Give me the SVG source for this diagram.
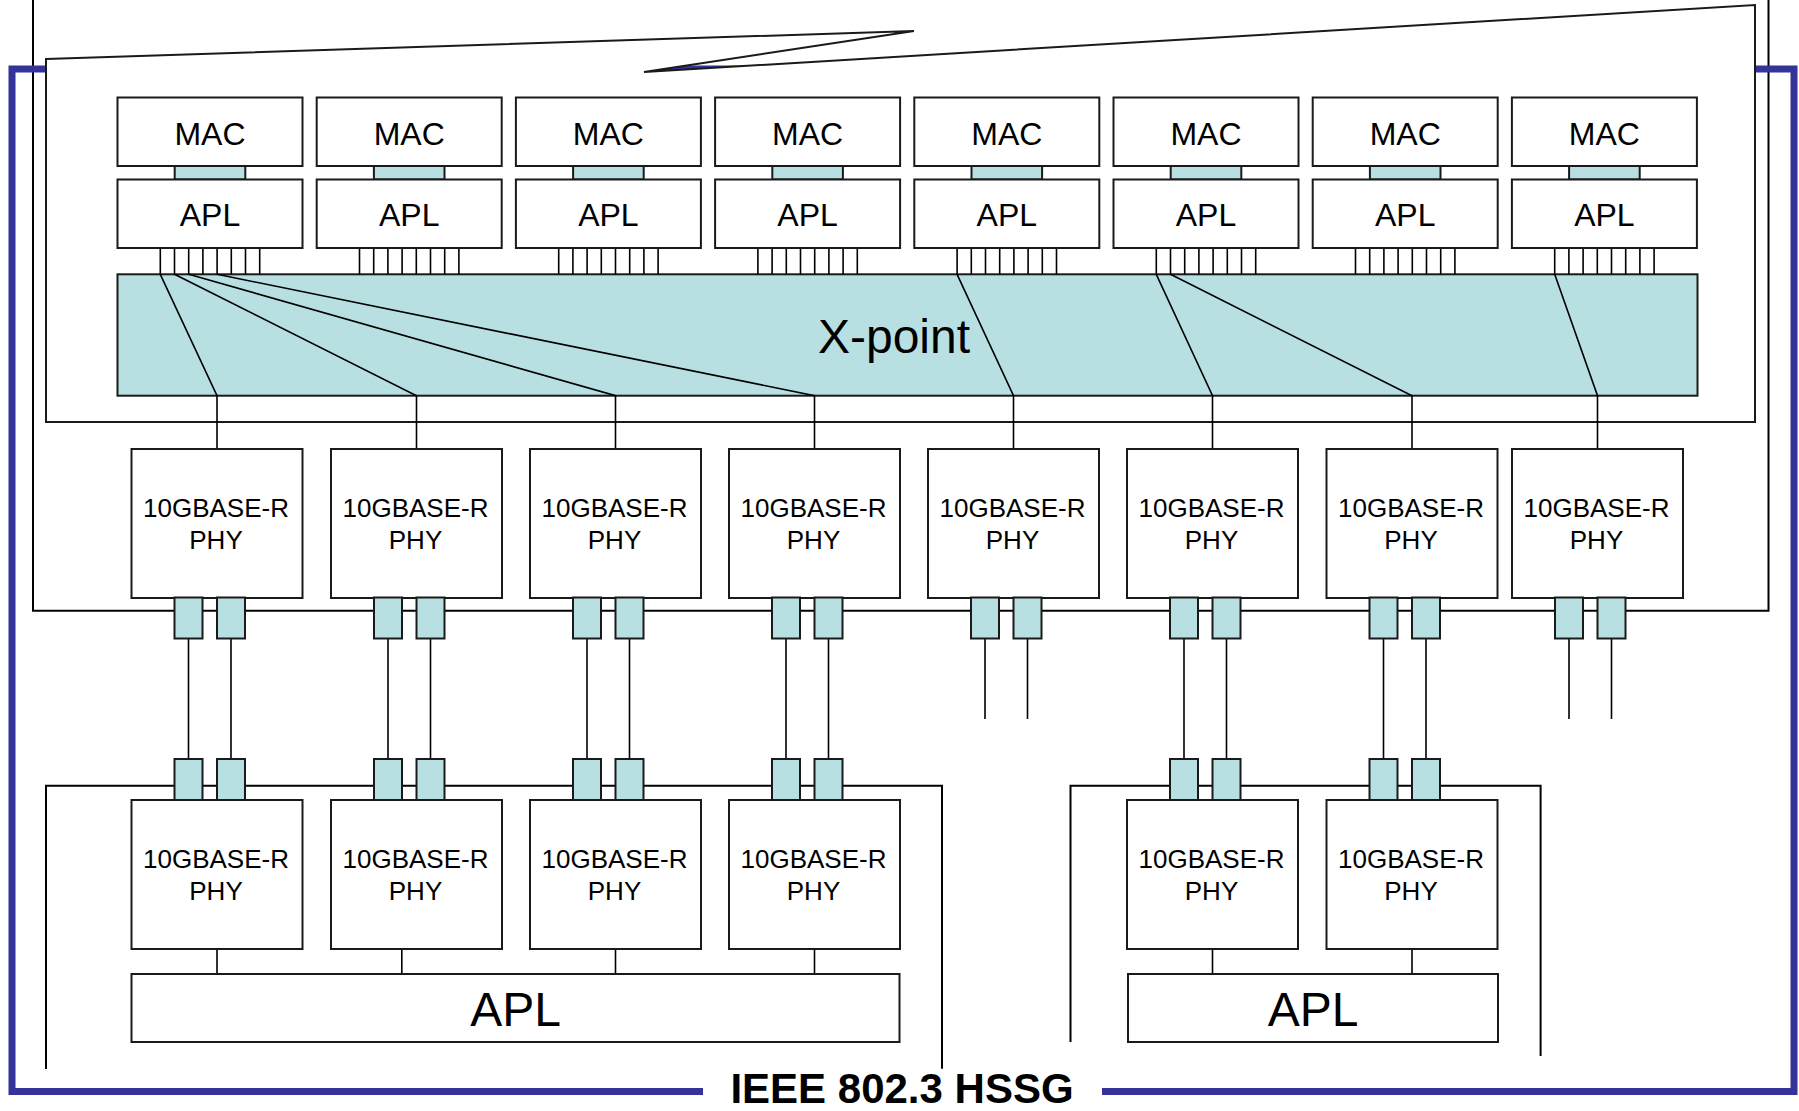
<svg xmlns="http://www.w3.org/2000/svg" width="1799" height="1111" viewBox="0 0 1799 1111">
<style>
.box{fill:#fff;stroke:#1a1a1a;stroke-width:2}
.teal{fill:#B8E0E3;stroke:#1a1a1a;stroke-width:2}
.ln{fill:none;stroke:#000;stroke-width:1.6}
.frame{fill:none;stroke:#000;stroke-width:2}
.t{font-family:"Liberation Sans",Arial,sans-serif;text-anchor:middle;fill:#000}
.m{font-size:32px}
.p{font-size:26px}
.big{font-size:48px}
</style>
<rect width="1799" height="1111" fill="#fff"/>
<g id="outer-box"><path class="frame" d="M33 0V610.7H1768.5V0"/></g>
<g id="hssg-frame"><path d="M703 1091.5H12V69H1794V1091.5H1102" fill="none" stroke="#333399" stroke-width="7"/>
<text class="t" x="902" y="1103" style="font-size:42px;font-weight:bold">IEEE 802.3 HSSG</text></g>
<g id="inner-box"><path class="box" d="M46 59L914 31L644 72L1755 5V422H46Z"/></g>
<g id="lower-left-box"><path class="frame" d="M46 1069V785.7H942V1068.7"/></g>
<g id="lower-right-box"><path class="frame" d="M1070.5 1042V785.7H1540.6V1056"/></g>

<g id="xpoint"><rect class="teal" x="117.5" y="274.3" width="1580" height="121.4"/><text class="t big" x="894" y="353">X-point</text></g>

<g id="connectors">
<path class="ln" d="M160.3 248V274.3M174.5 248V274.3M188.7 248V274.3M202.9 248V274.3M217.1 248V274.3M231.3 248V274.3M245.5 248V274.3M259.7 248V274.3"/>
<path class="ln" d="M359.5 248V274.3M373.7 248V274.3M387.9 248V274.3M402.1 248V274.3M416.3 248V274.3M430.5 248V274.3M444.7 248V274.3M458.9 248V274.3"/>
<path class="ln" d="M558.7 248V274.3M572.9 248V274.3M587.1 248V274.3M601.3 248V274.3M615.5 248V274.3M629.7 248V274.3M643.9 248V274.3M658.1 248V274.3"/>
<path class="ln" d="M757.9 248V274.3M772.1 248V274.3M786.3 248V274.3M800.5 248V274.3M814.7 248V274.3M828.9 248V274.3M843.1 248V274.3M857.3 248V274.3"/>
<path class="ln" d="M957.1 248V274.3M971.3 248V274.3M985.5 248V274.3M999.7 248V274.3M1013.9 248V274.3M1028.1 248V274.3M1042.3 248V274.3M1056.5 248V274.3"/>
<path class="ln" d="M1156.3 248V274.3M1170.5 248V274.3M1184.7 248V274.3M1198.9 248V274.3M1213.1 248V274.3M1227.3 248V274.3M1241.5 248V274.3M1255.7 248V274.3"/>
<path class="ln" d="M1355.5 248V274.3M1369.7 248V274.3M1383.9 248V274.3M1398.1 248V274.3M1412.3 248V274.3M1426.5 248V274.3M1440.7 248V274.3M1454.9 248V274.3"/>
<path class="ln" d="M1554.7 248V274.3M1568.9 248V274.3M1583.1 248V274.3M1597.3 248V274.3M1611.5 248V274.3M1625.7 248V274.3M1639.9 248V274.3M1654.1 248V274.3"/>
<path class="ln" d="M160.3 274.3L217 395.7V449M174.5 274.3L416.5 395.7V449M188.7 274.3L615.5 395.7V449M217.1 274.3L814.5 395.7V449M957.1 274.3L1013.5 395.7V449M1156.3 274.3L1212.5 395.7V449M1170.5 274.3L1412 395.7V449M1554.7 274.3L1597.5 395.7V449"/>
<path class="ln" d="M188.5 638.5V759M231 638.5V759M388 638.5V759M430.5 638.5V759M587 638.5V759M629.5 638.5V759M786 638.5V759M828.5 638.5V759M1184 638.5V759M1226.5 638.5V759M1383.5 638.5V759M1426 638.5V759"/>
<path class="ln" d="M985 638.5V719M1027.5 638.5V719M1569 638.5V719M1611.5 638.5V719"/>
<path class="ln" d="M217 949V974M401.8 949V974M615.5 949V974M814.5 949V974M1212.5 949V974M1412 949V974"/>
</g>

<g id="mac1"><rect class="box" x="117.5" y="97.5" width="185" height="68.5"/><text class="t m" x="210" y="145">MAC</text></g>
<g id="mac2"><rect class="box" x="316.7" y="97.5" width="185" height="68.5"/><text class="t m" x="409.2" y="145">MAC</text></g>
<g id="mac3"><rect class="box" x="515.9" y="97.5" width="185" height="68.5"/><text class="t m" x="608.4" y="145">MAC</text></g>
<g id="mac4"><rect class="box" x="715.1" y="97.5" width="185" height="68.5"/><text class="t m" x="807.6" y="145">MAC</text></g>
<g id="mac5"><rect class="box" x="914.3" y="97.5" width="185" height="68.5"/><text class="t m" x="1006.8" y="145">MAC</text></g>
<g id="mac6"><rect class="box" x="1113.5" y="97.5" width="185" height="68.5"/><text class="t m" x="1206" y="145">MAC</text></g>
<g id="mac7"><rect class="box" x="1312.7" y="97.5" width="185" height="68.5"/><text class="t m" x="1405.2" y="145">MAC</text></g>
<g id="mac8"><rect class="box" x="1511.9" y="97.5" width="185" height="68.5"/><text class="t m" x="1604.4" y="145">MAC</text></g>

<g id="mac-apl-links">
<rect class="teal" x="174.7" y="166" width="70.6" height="13.5"/>
<rect class="teal" x="373.9" y="166" width="70.6" height="13.5"/>
<rect class="teal" x="573.1" y="166" width="70.6" height="13.5"/>
<rect class="teal" x="772.3" y="166" width="70.6" height="13.5"/>
<rect class="teal" x="971.5" y="166" width="70.6" height="13.5"/>
<rect class="teal" x="1170.7" y="166" width="70.6" height="13.5"/>
<rect class="teal" x="1369.9" y="166" width="70.6" height="13.5"/>
<rect class="teal" x="1569.1" y="166" width="70.6" height="13.5"/>
</g>

<g id="apl1"><rect class="box" x="117.5" y="179.5" width="185" height="68.5"/><text class="t m" x="210" y="226">APL</text></g>
<g id="apl2"><rect class="box" x="316.7" y="179.5" width="185" height="68.5"/><text class="t m" x="409.2" y="226">APL</text></g>
<g id="apl3"><rect class="box" x="515.9" y="179.5" width="185" height="68.5"/><text class="t m" x="608.4" y="226">APL</text></g>
<g id="apl4"><rect class="box" x="715.1" y="179.5" width="185" height="68.5"/><text class="t m" x="807.6" y="226">APL</text></g>
<g id="apl5"><rect class="box" x="914.3" y="179.5" width="185" height="68.5"/><text class="t m" x="1006.8" y="226">APL</text></g>
<g id="apl6"><rect class="box" x="1113.5" y="179.5" width="185" height="68.5"/><text class="t m" x="1206" y="226">APL</text></g>
<g id="apl7"><rect class="box" x="1312.7" y="179.5" width="185" height="68.5"/><text class="t m" x="1405.2" y="226">APL</text></g>
<g id="apl8"><rect class="box" x="1511.9" y="179.5" width="185" height="68.5"/><text class="t m" x="1604.4" y="226">APL</text></g>

<g id="phy1"><rect class="box" x="131.5" y="449" width="171" height="149"/><text class="t p" x="216" y="517">10GBASE-R</text><text class="t p" x="216" y="548.5">PHY</text></g>
<g id="phy2"><rect class="box" x="331" y="449" width="171" height="149"/><text class="t p" x="415.5" y="517">10GBASE-R</text><text class="t p" x="415.5" y="548.5">PHY</text></g>
<g id="phy3"><rect class="box" x="530" y="449" width="171" height="149"/><text class="t p" x="614.5" y="517">10GBASE-R</text><text class="t p" x="614.5" y="548.5">PHY</text></g>
<g id="phy4"><rect class="box" x="729" y="449" width="171" height="149"/><text class="t p" x="813.5" y="517">10GBASE-R</text><text class="t p" x="813.5" y="548.5">PHY</text></g>
<g id="phy5"><rect class="box" x="928" y="449" width="171" height="149"/><text class="t p" x="1012.5" y="517">10GBASE-R</text><text class="t p" x="1012.5" y="548.5">PHY</text></g>
<g id="phy6"><rect class="box" x="1127" y="449" width="171" height="149"/><text class="t p" x="1211.5" y="517">10GBASE-R</text><text class="t p" x="1211.5" y="548.5">PHY</text></g>
<g id="phy7"><rect class="box" x="1326.5" y="449" width="171" height="149"/><text class="t p" x="1411" y="517">10GBASE-R</text><text class="t p" x="1411" y="548.5">PHY</text></g>
<g id="phy8"><rect class="box" x="1512" y="449" width="171" height="149"/><text class="t p" x="1596.5" y="517">10GBASE-R</text><text class="t p" x="1596.5" y="548.5">PHY</text></g>

<g id="upper-ports">
<rect class="teal" x="174.5" y="597.5" width="28" height="41"/><rect class="teal" x="217" y="597.5" width="28" height="41"/>
<rect class="teal" x="374" y="597.5" width="28" height="41"/><rect class="teal" x="416.5" y="597.5" width="28" height="41"/>
<rect class="teal" x="573" y="597.5" width="28" height="41"/><rect class="teal" x="615.5" y="597.5" width="28" height="41"/>
<rect class="teal" x="772" y="597.5" width="28" height="41"/><rect class="teal" x="814.5" y="597.5" width="28" height="41"/>
<rect class="teal" x="971" y="597.5" width="28" height="41"/><rect class="teal" x="1013.5" y="597.5" width="28" height="41"/>
<rect class="teal" x="1170" y="597.5" width="28" height="41"/><rect class="teal" x="1212.5" y="597.5" width="28" height="41"/>
<rect class="teal" x="1369.5" y="597.5" width="28" height="41"/><rect class="teal" x="1412" y="597.5" width="28" height="41"/>
<rect class="teal" x="1555" y="597.5" width="28" height="41"/><rect class="teal" x="1597.5" y="597.5" width="28" height="41"/>
</g>

<g id="lower-ports">
<rect class="teal" x="174.5" y="759" width="28" height="41"/><rect class="teal" x="217" y="759" width="28" height="41"/>
<rect class="teal" x="374" y="759" width="28" height="41"/><rect class="teal" x="416.5" y="759" width="28" height="41"/>
<rect class="teal" x="573" y="759" width="28" height="41"/><rect class="teal" x="615.5" y="759" width="28" height="41"/>
<rect class="teal" x="772" y="759" width="28" height="41"/><rect class="teal" x="814.5" y="759" width="28" height="41"/>
<rect class="teal" x="1170" y="759" width="28" height="41"/><rect class="teal" x="1212.5" y="759" width="28" height="41"/>
<rect class="teal" x="1369.5" y="759" width="28" height="41"/><rect class="teal" x="1412" y="759" width="28" height="41"/>
</g>

<g id="lphy1"><rect class="box" x="131.5" y="800" width="171" height="149"/><text class="t p" x="216" y="868">10GBASE-R</text><text class="t p" x="216" y="899.5">PHY</text></g>
<g id="lphy2"><rect class="box" x="331" y="800" width="171" height="149"/><text class="t p" x="415.5" y="868">10GBASE-R</text><text class="t p" x="415.5" y="899.5">PHY</text></g>
<g id="lphy3"><rect class="box" x="530" y="800" width="171" height="149"/><text class="t p" x="614.5" y="868">10GBASE-R</text><text class="t p" x="614.5" y="899.5">PHY</text></g>
<g id="lphy4"><rect class="box" x="729" y="800" width="171" height="149"/><text class="t p" x="813.5" y="868">10GBASE-R</text><text class="t p" x="813.5" y="899.5">PHY</text></g>
<g id="lphy5"><rect class="box" x="1127" y="800" width="171" height="149"/><text class="t p" x="1211.5" y="868">10GBASE-R</text><text class="t p" x="1211.5" y="899.5">PHY</text></g>
<g id="lphy6"><rect class="box" x="1326.5" y="800" width="171" height="149"/><text class="t p" x="1411" y="868">10GBASE-R</text><text class="t p" x="1411" y="899.5">PHY</text></g>

<g id="lapl-left"><rect class="box" x="131.5" y="974" width="768" height="68"/><text class="t big" x="515.5" y="1026">APL</text></g>
<g id="lapl-right"><rect class="box" x="1128" y="974" width="370" height="68"/><text class="t big" x="1313" y="1026">APL</text></g>
</svg>
